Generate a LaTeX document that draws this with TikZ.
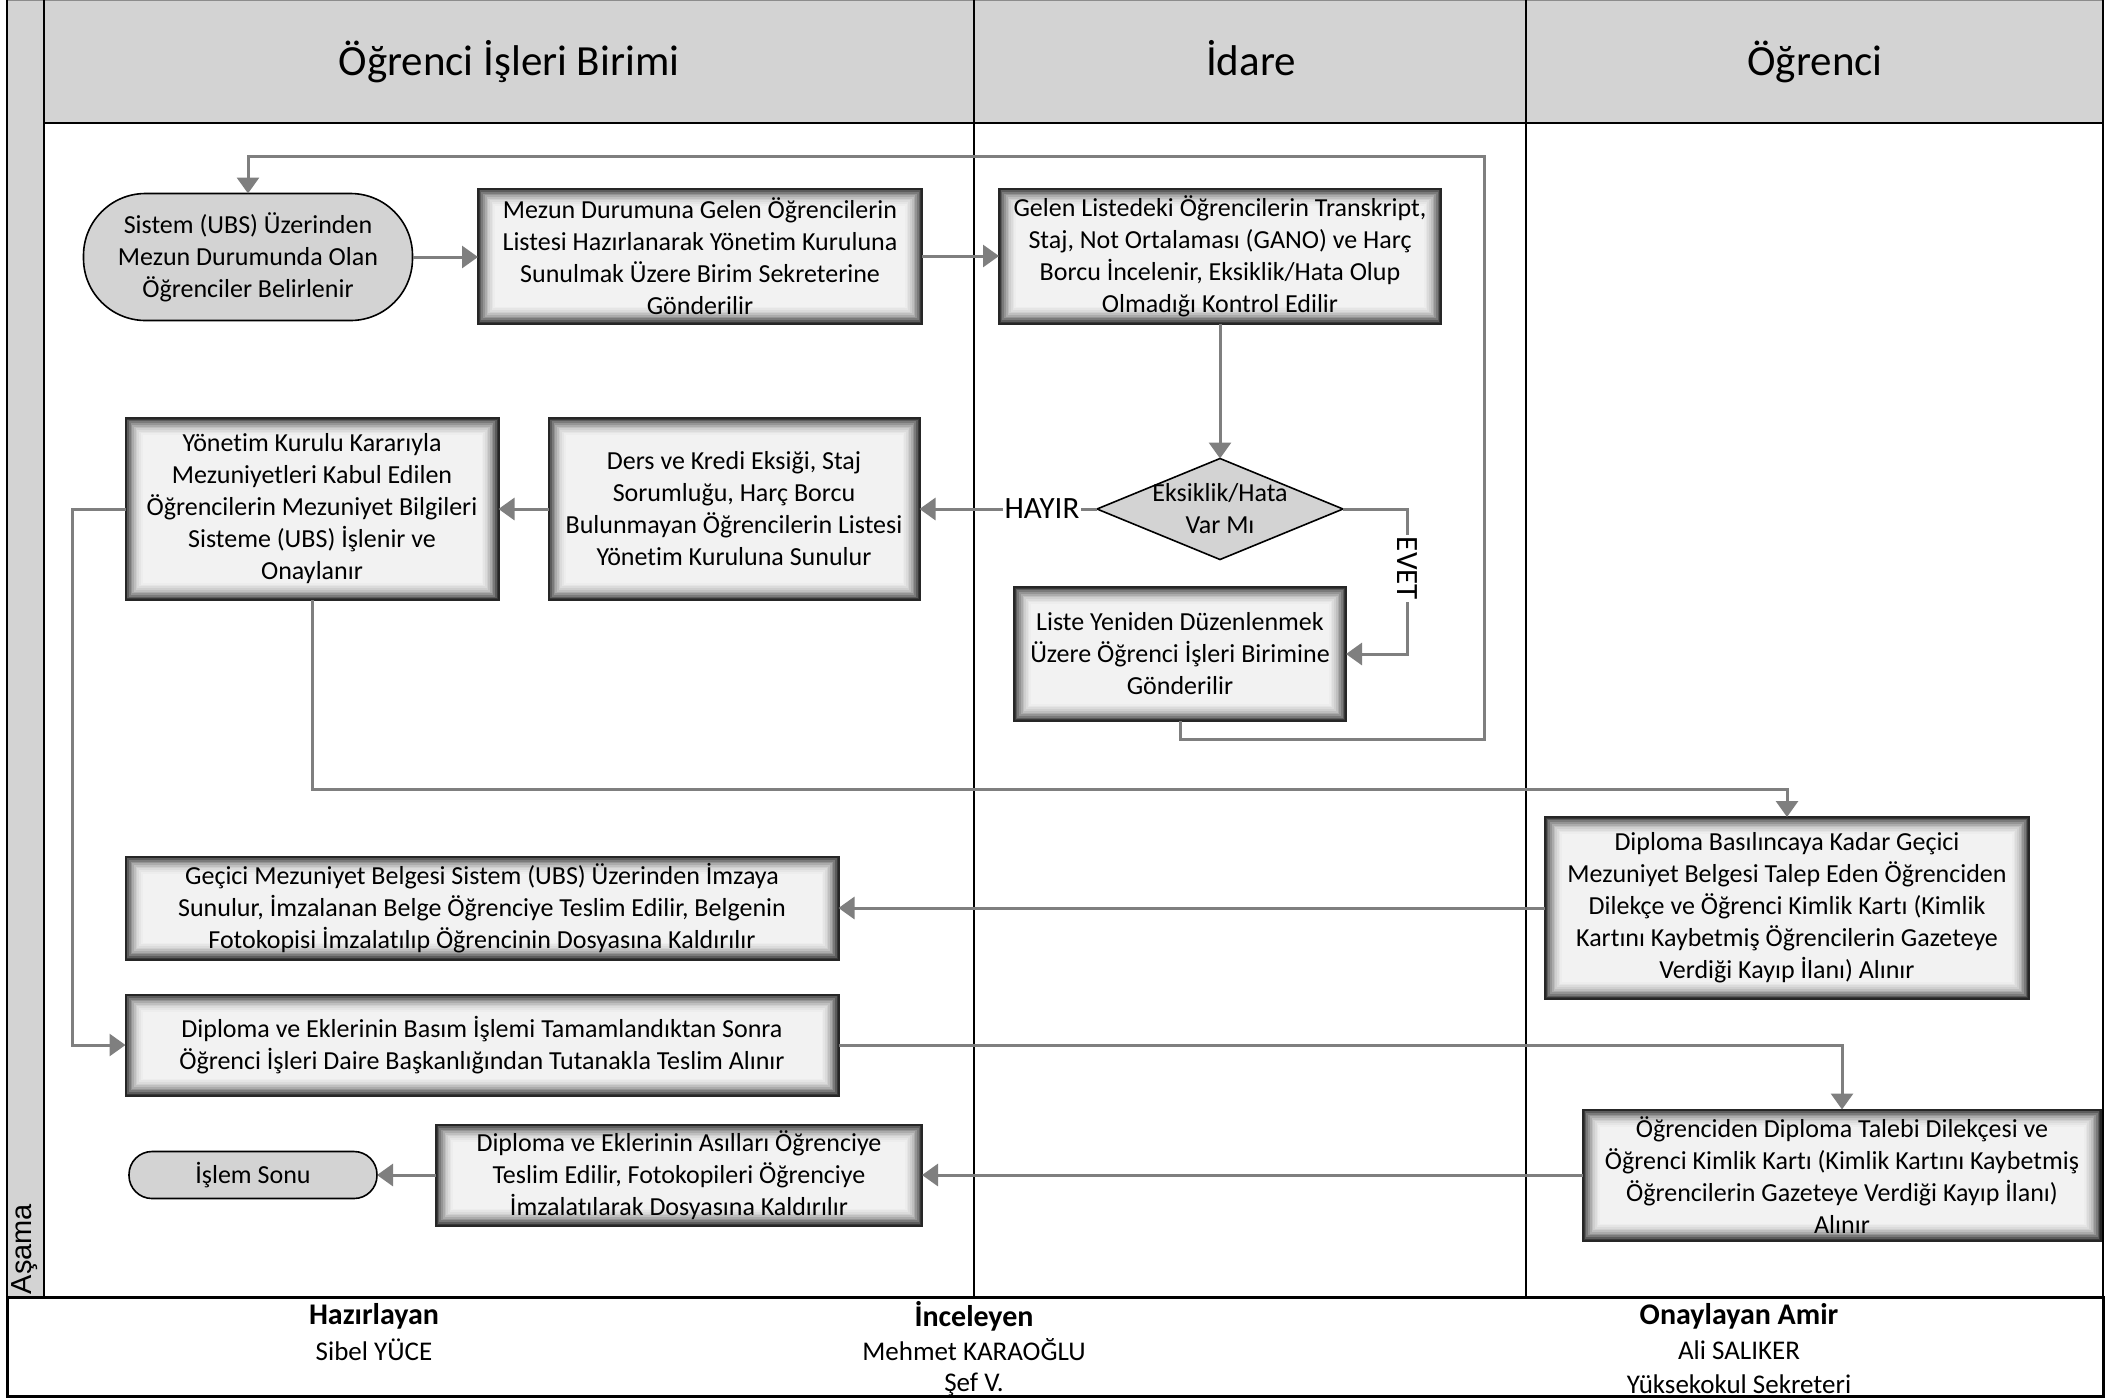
\documentclass[tikz,border=0pt]{standalone}
\usepackage{fontspec}
\setmainfont{Carlito}[Ligatures=NoCommon]
\newfontfamily\arialf{Liberation Sans}
\usetikzlibrary{calc,arrows.meta,shapes.geometric}
\definecolor{hdr}{HTML}{D3D3D3}
\definecolor{conn}{HTML}{7F7F7F}
\begin{document}
\begin{tikzpicture}[x=0.5pt,y=-0.5pt,
  every node/.style={inner sep=0pt,outer sep=0pt},
  boxtxt/.style={font=\fontsize{13}{16}\selectfont,align=center},
  procbox/.style={boxtxt,rectangle,draw=black!85,line width=1pt,
    path picture={
      \foreach \k/\c in {0/78,1/64,2/52,3/42,4/33,5/25,6/19,7/14,8/10,9/7,10/5}{
        \fill[black!\c,draw=none] ($(path picture bounding box.south west)+(\k*0.85pt,\k*0.85pt)$) rectangle ($(path picture bounding box.north east)-(\k*0.85pt,\k*0.85pt)$);
      }}},
  termbox/.style={boxtxt,rectangle,rounded corners=#1,draw=black,line width=0.8pt,fill=hdr},
  decision/.style={diamond,draw=black,line width=0.8pt,fill=hdr},
  arr/.style={draw=conn,line width=1.5pt,-{Triangle[width=11pt,length=8pt]}},
  lbl/.style={fill=white,font=\fontsize{15.5}{18}\selectfont,inner sep=1pt},
  title/.style={font=\fontsize{21.5}{26}\selectfont,anchor=base},
  foothead/.style={font=\bfseries\fontsize{15}{18}\selectfont},
  footname/.style={font=\fontsize{13.5}{16}\selectfont},
  frameline/.style={draw=black,line width=0.8pt}
]
\useasboundingbox (0,0) rectangle (2125,1399);
% frame
\fill[hdr] (7,0) rectangle (44,1297);
\fill[hdr] (44,0) rectangle (2103,123);
\draw[draw=black!45,line width=0.8pt] (7,0) -- (2103,0);
\draw[frameline] (7,0) -- (7,1297);
\draw[frameline] (44,0) -- (44,1297);
\draw[frameline] (974,0) -- (974,1297);
\draw[frameline] (1526,0) -- (1526,1297);
\draw[frameline] (2103,0) -- (2103,1297);
\draw[draw=black,line width=1.1pt] (44,123) -- (2103,123);
\draw[draw=black,line width=1.5pt] (7,1297) rectangle (2103,1396);
% titles
\node[title] (t1) at (509,75) {Öğrenci İşleri Birimi};
\node[title] (t2) at (1251,75) {İdare};
\node[title] (t3) at (1815,75) {Öğrenci};
\node[rotate=90,font=\arialf\fontsize{14.5}{17}\selectfont] (asama) at (25,1249) {Aşama};
% nodes
\node[termbox=31pt,minimum width=164.5pt,minimum height=63.5pt] (start) at (248,257) {Sistem (UBS) Üzerinden\\Mezun Durumunda Olan\\Öğrenciler Belirlenir};
\node[procbox,minimum width=222pt,minimum height=67.5pt] (A) at (700,256) {Mezun Durumuna Gelen Öğrencilerin\\Listesi Hazırlanarak Yönetim Kuruluna\\Sunulmak Üzere Birim Sekreterine\\Gönderilir};
\node[procbox,minimum width=221pt,minimum height=67.5pt] (B) at (1220,256) {Gelen Listedeki Öğrencilerin Transkript,\\Staj, Not Ortalaması (GANO) ve Harç\\Borcu İncelenir, Eksiklik/Hata Olup\\Olmadığı Kontrol Edilir};
\node[decision,minimum width=123pt,minimum height=50.5pt] (d) at (1220,509) {};
\node[boxtxt] (dtxt) at (d.center) {Eksiklik/Hata\\Var Mı};
\node[procbox,minimum width=166pt,minimum height=67pt] (C) at (1180,654) {Liste Yeniden Düzenlenmek\\Üzere Öğrenci İşleri Birimine\\Gönderilir};
\node[procbox,minimum width=185.5pt,minimum height=91pt] (D) at (734,509) {Ders ve Kredi Eksiği, Staj\\Sorumluğu, Harç Borcu\\Bulunmayan Öğrencilerin Listesi\\Yönetim Kuruluna Sunulur};
\node[procbox,minimum width=186.5pt,minimum height=91pt] (E) at (312,509) {Yönetim Kurulu Kararıyla\\Mezuniyetleri Kabul Edilen\\Öğrencilerin Mezuniyet Bilgileri\\Sisteme (UBS) İşlenir ve\\Onaylanır};
\node[procbox,minimum width=242pt,minimum height=91pt] (F) at (1787,908) {Diploma Basılıncaya Kadar Geçici\\Mezuniyet Belgesi Talep Eden Öğrenciden\\Dilekçe ve Öğrenci Kimlik Kartı (Kimlik\\Kartını Kaybetmiş Öğrencilerin Gazeteye\\Verdiği Kayıp İlanı) Alınır};
\node[procbox,minimum width=356.5pt,minimum height=51.5pt] (G) at (482,908) {Geçici Mezuniyet Belgesi Sistem (UBS) Üzerinden İmzaya\\Sunulur, İmzalanan Belge Öğrenciye Teslim Edilir, Belgenin\\Fotokopisi İmzalatılıp Öğrencinin Dosyasına Kaldırılır};
\node[procbox,minimum width=356.5pt,minimum height=50.5pt] (H) at (482,1045) {Diploma ve Eklerinin Basım İşlemi Tamamlandıktan Sonra\\Öğrenci İşleri Daire Başkanlığından Tutanakla Teslim Alınır};
\node[procbox,minimum width=259pt,minimum height=65.5pt] (I) at (1842,1175) {Öğrenciden Diploma Talebi Dilekçesi ve\\Öğrenci Kimlik Kartı (Kimlik Kartını Kaybetmiş\\Öğrencilerin Gazeteye Verdiği Kayıp İlanı)\\Alınır};
\node[procbox,minimum width=243pt,minimum height=50.5pt] (J) at (679,1175) {Diploma ve Eklerinin Asılları Öğrenciye\\Teslim Edilir, Fotokopileri Öğrenciye\\İmzalatılarak Dosyasına Kaldırılır};
\node[termbox=11.5pt,minimum width=124pt,minimum height=23.5pt] (end) at (253,1175) {İşlem Sonu};
% footer
\node[foothead] (f1) at (374,1316) {Hazırlayan};
\node[footname] (f1n) at (374,1350) {Sibel YÜCE};
\node[foothead] (f2) at (974,1316) {İnceleyen};
\node[footname] (f2n) at (974,1350) {Mehmet KARAOĞLU};
\node[footname] (f2t) at (974,1384) {Şef V.};
\node[foothead] (f3) at (1739,1316) {Onaylayan Amir};
\node[footname] (f3n) at (1739,1350) {Ali SALIKER};
\node[footname] (f3t) at (1739,1384) {Yüksekokul Sekreteri};
% coordinates
\coordinate (ev) at (1407,509);
\coordinate (c1) at (1484,739);
\coordinate (c2) at (1484,156);
\coordinate (ef) at (1787,789);
\coordinate (eh) at (72,509);
% connectors
\draw[arr] (start.east) -- (start.east -| A.west);
\draw[arr] (A.east) -- (A.east -| B.west);
\draw[arr] (B.south) -- (d.north);
\draw[arr] (d.west) -- node[lbl,pos=0.31] (hayir) {HAYIR} (d.west -| D.east);
\draw[arr] (d.east) -- (ev) -- node[lbl,rotate=-90,pos=0.41] (evet) {EVET} (ev |- C.east) -- (C.east);
\draw[arr] (C.south) |- (c1) -- (c2) -| (start.north);
\draw[arr] (D.west) -- (D.west -| E.east);
\draw[arr] (E.south) |- (ef) -- (F.north);
\draw[arr] (E.west) -- (eh) |- (H.west);
\draw[arr] (F.west) -- (F.west -| G.east);
\draw[arr] (H.east) -| (I.north);
\draw[arr] (I.west) -- (I.west -| J.east);
\draw[arr] (J.west) -- (J.west -| end.east);
\end{tikzpicture}
\end{document}
